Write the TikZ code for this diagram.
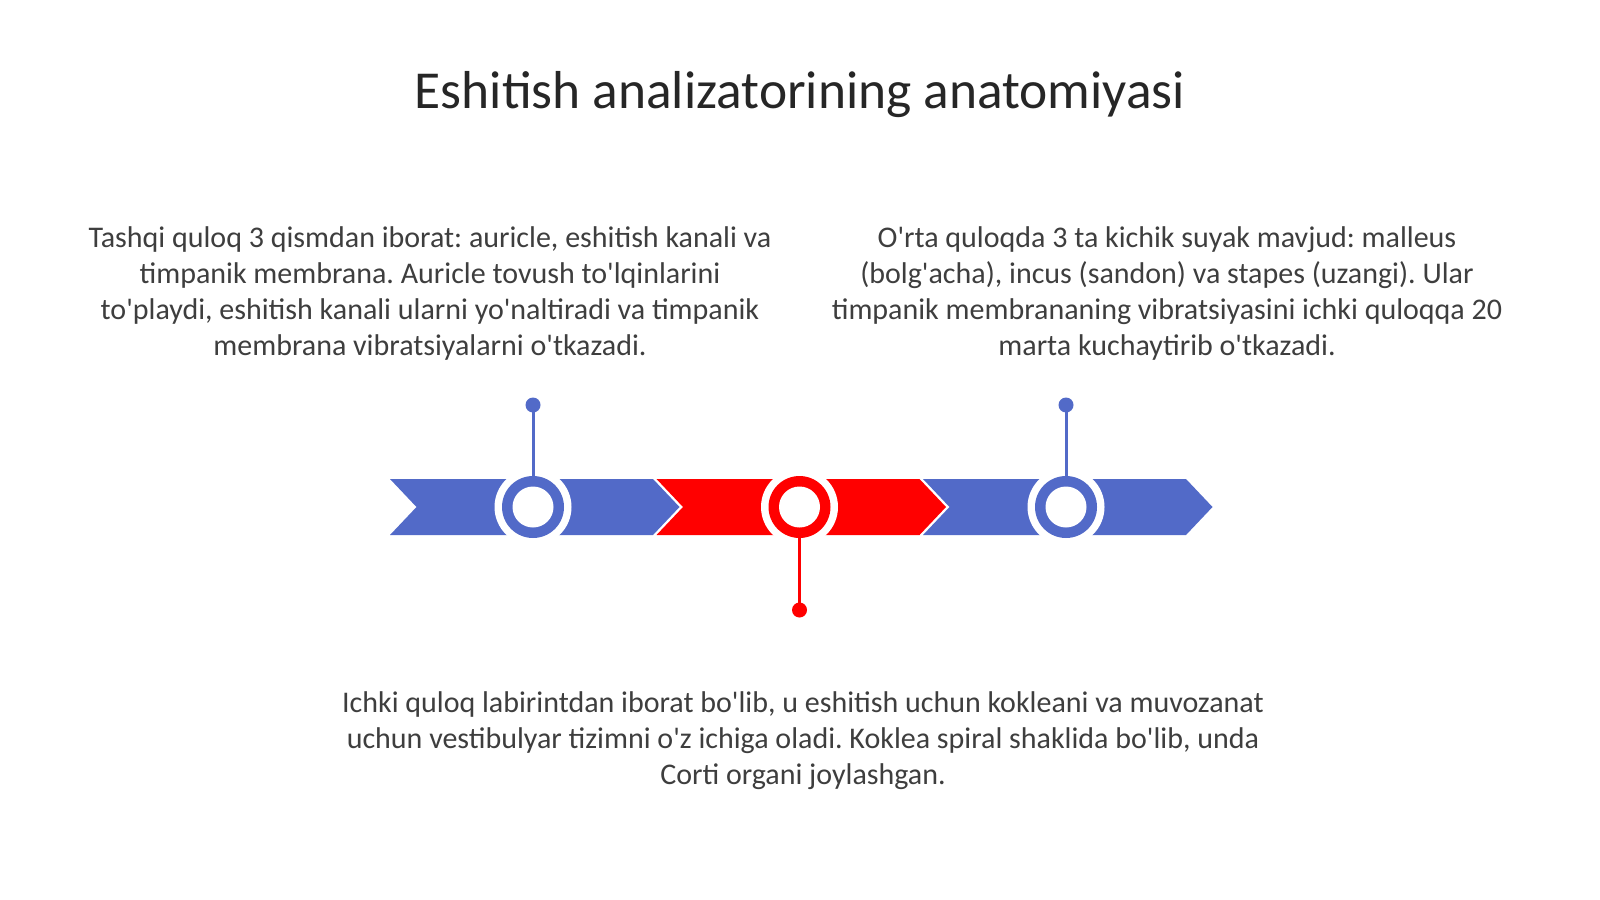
\documentclass[tikz,border=0pt]{standalone}
\usepackage{fontspec}
\setmainfont{Carlito}[Ligatures=TeXOff]
\definecolor{tlblue}{RGB}{82,106,200}
\definecolor{tlred}{RGB}{255,0,0}
\definecolor{titlegray}{RGB}{38,38,38}
\definecolor{bodygray}{RGB}{62,62,62}
\frenchspacing
\begin{document}
\begin{tikzpicture}[x=0.5pt,y=-0.5pt,
  halo/.style={circle,fill=white,inner sep=0pt,minimum size=38.5pt},
  ring/.style={circle,fill=#1,inner sep=0pt,minimum size=31pt},
  hole/.style={circle,fill=white,inner sep=0pt,minimum size=20.5pt},
  dotnode/.style={circle,fill=#1,inner sep=0pt,minimum size=7.5pt},
  stem/.style={draw=#1,line width=1.5pt},
  titletext/.style={font=\fontsize{26.7}{32}\selectfont,text=titlegray,inner sep=0pt,anchor=base},
  bodytext/.style={font=\fontsize{15}{17.85}\selectfont,text=bodygray,inner sep=0pt,align=center,anchor=base}
]
\useasboundingbox[fill=white] (0,0) rectangle (1600,899);

% title
\node[titletext] (title) at (800,109) {Eshitish analizatorining anatomiyasi};

% chevron segments
\foreach \L/\col in {390/tlblue, 656.5/tlred, 923/tlblue}{
  \fill[\col] (\L,479) -- ({\L+263},479) -- ({\L+289.5},507) -- ({\L+263},535)
     -- (\L,535) -- ({\L+26.5},507) -- cycle;
}

% circles
\foreach \i/\cx/\col in {1/533/tlblue, 2/799.5/tlred, 3/1066/tlblue}{
  \node[halo] (h\i) at (\cx,507) {};
  \node[ring=\col] (r\i) at (\cx,507) {};
  \node[hole] (o\i) at (\cx,507) {};
}

% stems and dots
\node[dotnode=tlblue] (d1) at (533,405) {};
\node[dotnode=tlred] (d2) at (799.5,610) {};
\node[dotnode=tlblue] (d3) at (1066,405) {};
\draw[stem=tlblue] (r1.north) -- (d1.center);
\draw[stem=tlred] (r2.south) -- (d2.center);
\draw[stem=tlblue] (r3.north) -- (d3.center);

% texts (anchor = baseline of last line)
\node[bodytext] (t1) at (430,355) {Tashqi quloq 3 qismdan iborat: auricle, eshitish kanali va\\
timpanik membrana. Auricle tovush to'lqinlarini\\
to'playdi, eshitish kanali ularni yo'naltiradi va timpanik\\
membrana vibratsiyalarni o'tkazadi.};

\node[bodytext] (t2) at (1167,355) {O'rta quloqda 3 ta kichik suyak mavjud: malleus\\
(bolg'acha), incus (sandon) va stapes (uzangi). Ular\\
timpanik membrananing vibratsiyasini ichki quloqqa 20\\
marta kuchaytirib o'tkazadi.};

\node[bodytext] (t3) at (803,784) {Ichki quloq labirintdan iborat bo'lib, u eshitish uchun kokleani va muvozanat\\
uchun vestibulyar tizimni o'z ichiga oladi. Koklea spiral shaklida bo'lib, unda\\
Corti organi joylashgan.};
\end{tikzpicture}
\end{document}
